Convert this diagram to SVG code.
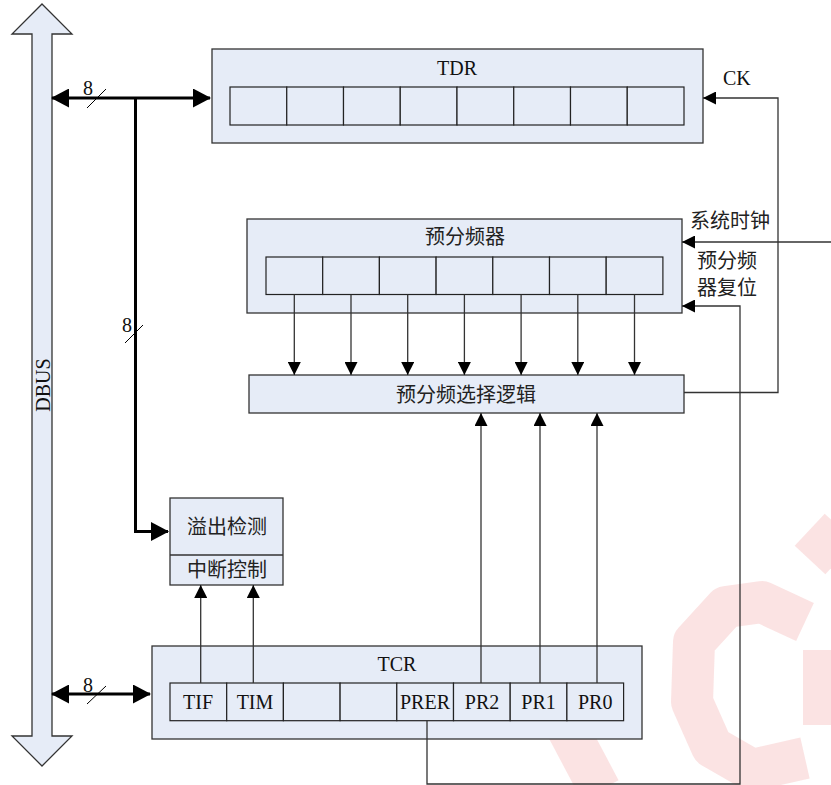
<svg xmlns="http://www.w3.org/2000/svg" width="831" height="785" viewBox="0 0 831 785">
<style>
.box{fill:#e6ecf7;stroke:#333;stroke-width:1.3}
.cell{fill:#e6ecf7;stroke:#222;stroke-width:1.2}
.ln{fill:none;stroke:#333;stroke-width:1.3}
.bus{fill:none;stroke:#000;stroke-width:3}
.sl{fill:none;stroke:#000;stroke-width:1}
.t{font-family:'Liberation Serif','Times New Roman',Tinos,'DejaVu Serif',serif;font-size:20px;fill:#111}
.c{font-family:'Noto Sans CJK SC','Noto Sans CJK JP',sans-serif;font-size:20px;fill:#222}
.m{text-anchor:middle}
.wm{fill:none;stroke:#f29a9a;opacity:0.28;stroke-width:42;stroke-linejoin:round}
</style>
<defs>
<marker id="ah" markerUnits="userSpaceOnUse" markerWidth="13" markerHeight="13" viewBox="0 0 13 13" refX="13" refY="6.5" orient="auto"><path d="M0,0 L13,6.5 L0,13 z" fill="#000"/></marker>
<marker id="bh" markerUnits="userSpaceOnUse" markerWidth="18" markerHeight="19" viewBox="0 0 18 19" refX="17" refY="9.5" orient="auto-start-reverse"><path d="M0,0 L18,9.5 L0,19 z" fill="#000"/></marker>
</defs>
<rect width="831" height="785" fill="#fff"/>
<g id="watermark">
<path class="wm" d="M805 622 L762 602 L726 607 L694 642 L692 702 L712 747 L752 770 L805 758"/>
<path class="wm" d="M810 560 L840 528"/>
<path class="wm" d="M824 650 L824 725"/>
<path class="wm" d="M555 705 L600 790"/>
</g>
<g id="dbus">
<path d="M42,4 L72,34 L52,34 L52,736 L72,736 L42,766 L12,736 L32,736 L32,34 L12,34 z" fill="#e6ecf7" stroke="#333" stroke-width="1.3"/>
<text class="t m" font-family="Liberation Serif, serif" transform="translate(50,385) rotate(-90)">DBUS</text>
</g>
<g id="tdr">
<rect class="box" x="212" y="49" width="491" height="94"/>
<text class="t m" x="457" y="75">TDR</text>
<rect class="cell" x="230" y="87" width="56.75" height="38"/>
<rect class="cell" x="286.75" y="87" width="56.75" height="38"/>
<rect class="cell" x="343.5" y="87" width="56.75" height="38"/>
<rect class="cell" x="400.25" y="87" width="56.75" height="38"/>
<rect class="cell" x="457" y="87" width="56.75" height="38"/>
<rect class="cell" x="513.75" y="87" width="56.75" height="38"/>
<rect class="cell" x="570.5" y="87" width="56.75" height="38"/>
<rect class="cell" x="627.25" y="87" width="56.75" height="38"/>
</g>
<g id="prescaler">
<rect class="box" x="247" y="219" width="435" height="94"/>
<text class="c m" x="465" y="244">预分频器</text>
<rect class="cell" x="266" y="257" width="56.7" height="37.5"/>
<rect class="cell" x="322.7" y="257" width="56.7" height="37.5"/>
<rect class="cell" x="379.4" y="257" width="56.7" height="37.5"/>
<rect class="cell" x="436.1" y="257" width="56.7" height="37.5"/>
<rect class="cell" x="492.8" y="257" width="56.7" height="37.5"/>
<rect class="cell" x="549.5" y="257" width="56.7" height="37.5"/>
<rect class="cell" x="606.2" y="257" width="56.7" height="37.5"/>
</g>
<g id="select">
<rect class="box" x="249" y="375" width="435" height="38"/>
<text class="c m" x="466" y="402">预分频选择逻辑</text>
</g>
<g id="overflow">
<rect class="box" x="170" y="498" width="113" height="87"/>
<line x1="170" y1="555" x2="283" y2="555" stroke="#333" stroke-width="1.3"/>
<text class="c m" x="227" y="534">溢出检测</text>
<text class="c m" x="227" y="577">中断控制</text>
</g>
<g id="tcr">
<rect class="box" x="152" y="646" width="490" height="93"/>
<text class="t m" x="397" y="671">TCR</text>
<rect class="cell" x="170" y="683" width="56.7" height="37.7"/>
<rect class="cell" x="226.7" y="683" width="56.7" height="37.7"/>
<rect class="cell" x="283.4" y="683" width="56.7" height="37.7"/>
<rect class="cell" x="340.1" y="683" width="56.7" height="37.7"/>
<rect class="cell" x="396.8" y="683" width="56.7" height="37.7"/>
<rect class="cell" x="453.5" y="683" width="56.7" height="37.7"/>
<rect class="cell" x="510.2" y="683" width="56.7" height="37.7"/>
<rect class="cell" x="566.9" y="683" width="56.7" height="37.7"/>
<text class="t m" x="198" y="709">TIF</text>
<text class="t m" x="255" y="709">TIM</text>
<text class="t m" x="425" y="709">PRER</text>
<text class="t m" x="482" y="709">PR2</text>
<text class="t m" x="538.5" y="709">PR1</text>
<text class="t m" x="595.2" y="709">PR0</text>
</g>
<g id="labels">
<text class="t" x="723" y="85">CK</text>
<text class="c" x="690" y="228">系统时钟</text>
<text class="c m" x="727" y="268">预分频</text>
<text class="c m" x="727" y="295">器复位</text>
<text class="t m" x="88" y="95">8</text>
<text class="t m" x="127" y="332">8</text>
<text class="t m" x="88" y="692">8</text>
</g>
<g id="connectors">
<path class="bus" d="M52,98 L210,98" marker-start="url(#bh)" marker-end="url(#bh)"/>
<path class="bus" d="M135.5,98 L135.5,531.5 L168,531.5" marker-end="url(#bh)"/>
<path class="bus" d="M52,694 L150,694" marker-start="url(#bh)" marker-end="url(#bh)"/>
<line class="sl" x1="87" y1="108" x2="106" y2="89"/>
<line class="sl" x1="125" y1="343" x2="143" y2="325"/>
<line class="sl" x1="87" y1="704" x2="106" y2="686"/>
<path class="ln" d="M294.3,294.5 L294.3,375" marker-end="url(#ah)"/>
<path class="ln" d="M351,294.5 L351,375" marker-end="url(#ah)"/>
<path class="ln" d="M407.7,294.5 L407.7,375" marker-end="url(#ah)"/>
<path class="ln" d="M464.4,294.5 L464.4,375" marker-end="url(#ah)"/>
<path class="ln" d="M521.1,294.5 L521.1,375" marker-end="url(#ah)"/>
<path class="ln" d="M577.8,294.5 L577.8,375" marker-end="url(#ah)"/>
<path class="ln" d="M634.5,294.5 L634.5,375" marker-end="url(#ah)"/>
<path class="ln" d="M481,683 L481,413" marker-end="url(#ah)"/>
<path class="ln" d="M540,683 L540,413" marker-end="url(#ah)"/>
<path class="ln" d="M597,683 L597,413" marker-end="url(#ah)"/>
<path class="ln" d="M200.7,683 L200.7,585" marker-end="url(#ah)"/>
<path class="ln" d="M253.3,683 L253.3,585" marker-end="url(#ah)"/>
<path class="ln" d="M684,392.5 L778,392.5 L778,98 L703,98" marker-end="url(#ah)"/>
<path class="ln" d="M831,242 L682,242" marker-end="url(#ah)"/>
<path class="ln" d="M427,720.7 L427,784 L740,784 L740,306 L682,306" marker-end="url(#ah)"/>
</g>
</svg>
